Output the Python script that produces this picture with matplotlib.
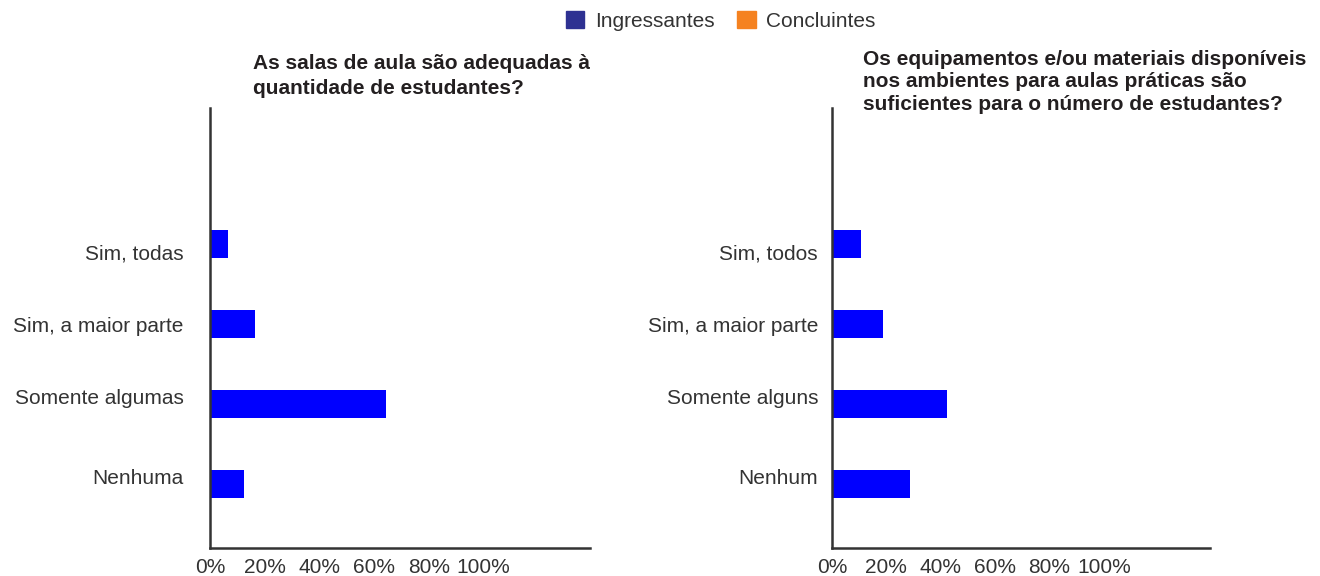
import numpy as np
import matplotlib.pyplot as plt

plt.rcParams['font.family'] = ['Liberation Sans', 'DejaVu Sans']

# dados (percentuais)
cats_salas = ['Sim, todas', 'Sim, a maior parte', 'Somente algumas', 'Nenhuma']
ingr_salas = [6.6, 16.6, 64.3, 12.6]
conc_salas = [0, 0, 0, 0]

cats_equip = ['Sim, todos', 'Sim, a maior parte', 'Somente alguns', 'Nenhum']
ingr_equip = [10.6, 18.6, 42.4, 28.5]
conc_equip = [0, 0, 0, 0]

titles = ['As salas de aula são adequadas à\nquantidade de estudantes?',
          'Os equipamentos e/ou materiais disponíveis\nnos ambientes para aulas práticas são\nsuficientes para o número de estudantes?']
xticks = [0, 20, 40, 60, 80, 100]

c_ingr = '#0000FF'
c_conc = '#F58220'
c_ingr_leg = '#2E3192'
txt = '#231F20'

fig = plt.figure(figsize=(13.2, 5.76), dpi=100)
ax1 = fig.add_axes([210 / 1320, 1 - 548 / 576, 380 / 1320, 440 / 576])
ax2 = fig.add_axes([832 / 1320, 1 - 548 / 576, 378 / 1320, 440 / 576])

# label nudge, as in the original the labels are not centred on the bars
nudge = np.array([0.1, 0, -0.09, -0.09])

h = 0.35
for ax, cats, ingr, conc in [(ax1, cats_salas, ingr_salas, conc_salas),
                             (ax2, cats_equip, ingr_equip, conc_equip)]:
    y = np.arange(len(cats))
    ax.barh(y, ingr, height=h, color=c_ingr)
    ax.barh(y + h, conc, height=h, color=c_conc)
    ax.set_yticks(y + nudge)
    ax.set_yticklabels(cats)
    ax.set_ylim(3.8, -1.7)
    ax.set_xlim(0, 139)
    ax.set_xticks(xticks)
    ax.set_xticklabels([f'{v}%' for v in xticks])
    for s in ['top', 'right']:
        ax.spines[s].set_visible(False)
    for s in ['left', 'bottom']:
        ax.spines[s].set_color('#333333')
        ax.spines[s].set_linewidth(1.8)
    ax.tick_params(length=0, labelsize=15, labelcolor='#333333')
    ax.tick_params(axis='x', pad=7)

ax1.tick_params(axis='y', pad=19)
ax2.tick_params(axis='y', pad=10)

fig.text(253 / 1320, 1 - 54 / 576, titles[0], fontsize=15, fontweight='bold',
         color=txt, va='top', ha='left', linespacing=1.38)
fig.text(863 / 1320, 1 - 50 / 576, titles[1], fontsize=15, fontweight='bold',
         color=txt, va='top', ha='left', linespacing=1.22)

handles = [plt.Rectangle((0, 0), 1, 1, color=c_ingr_leg),
           plt.Rectangle((0, 0), 1, 1, color=c_conc)]
fig.legend(handles, ['Ingressantes', 'Concluintes'], loc='center',
           bbox_to_anchor=(0.546, 1 - 21 / 576), ncol=2, frameon=False,
           fontsize=15, handlelength=0.9, handleheight=0.9, handletextpad=0.5,
           columnspacing=1.1, labelcolor='#333333')

fig.savefig('out.png', dpi=100)
